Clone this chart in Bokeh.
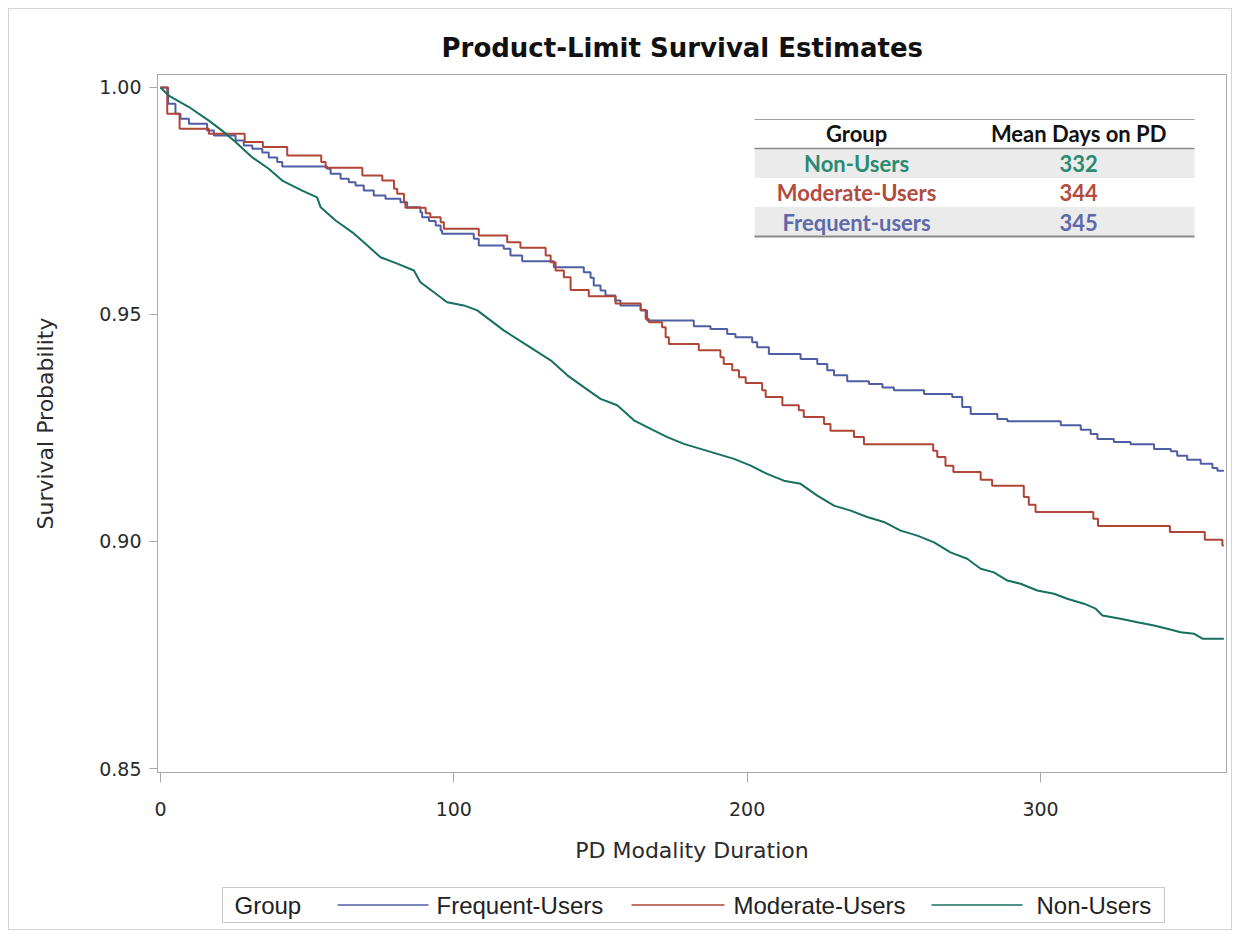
from bokeh.plotting import figure
from bokeh.layouts import column
from bokeh.models import Range1d, FixedTicker, NumeralTickFormatter
from bokeh.core.properties import value
from bokeh.embed import file_html
from bokeh.resources import INLINE

# ---------------- data ----------------
freq_t = [0, 2.6, 5.1, 6.8, 9.7, 15.9, 18.2, 25.6, 28.4, 31.3, 34.7, 36.9, 39.8, 41.5,
          56.8, 58.0, 61.4, 64.2, 66.5, 69.3, 72.7, 76.7, 81.8, 84.1, 88.6, 89.2, 91.5,
          93.8, 95.5, 96.0, 106.8, 108.5, 117.0, 119.3, 123.3, 134.1, 144.3, 146.6, 147.7,
          150.0, 151.7, 155.1, 156.8, 163.7, 165.9, 181.8, 187.5, 193.2, 196.0, 201.7,
          203.4, 207.4, 218.2, 223.9, 227.3, 229.6, 234.1, 241.5, 246.1, 250.0, 260.3,
          269.9, 273.3, 276.2, 285.3, 288.7, 306.9, 313.7, 317.1, 319.4, 325.0, 330.7,
          338.7, 344.4, 346.6, 350.0, 354.6, 358.6, 360.3, 362.5]
freq_s = [1.0, 0.9964, 0.9942, 0.9931, 0.9920, 0.9905, 0.9894, 0.9883, 0.9872, 0.9865,
          0.9857, 0.9846, 0.9836, 0.9826, 0.9821, 0.9810, 0.9799, 0.9791, 0.9784, 0.9773,
          0.9762, 0.9755, 0.9747, 0.9736, 0.9725, 0.9714, 0.9706, 0.9696, 0.9685, 0.9678,
          0.9667, 0.9652, 0.9645, 0.9630, 0.9617, 0.9604, 0.9593, 0.9581, 0.9564, 0.9553,
          0.9542, 0.9531, 0.9520, 0.9509, 0.9487, 0.9474, 0.9468, 0.9457, 0.9450, 0.9439,
          0.9428, 0.9413, 0.9402, 0.9391, 0.9377, 0.9366, 0.9353, 0.9347, 0.9339, 0.9333,
          0.9325, 0.9318, 0.9296, 0.9281, 0.9270, 0.9265, 0.9256, 0.9246, 0.9237, 0.9226,
          0.9219, 0.9214, 0.9204, 0.9199, 0.9189, 0.9180, 0.9171, 0.9162, 0.9156, 0.9156]

mod_t = [0, 2.3, 6.5, 16.5, 28.7, 34.9, 43.2, 54.8, 56.3, 68.8, 75.6, 79.6, 80.7, 83.0,
         83.5, 90.4, 92.0, 95.5, 96.6, 108.5, 118.2, 122.7, 131.3, 133.0, 134.7, 137.5,
         139.8, 146.0, 155.1, 163.7, 165.4, 166.5, 171.0, 172.2, 173.3, 183.5, 190.9,
         192.0, 194.9, 197.2, 199.5, 205.1, 206.3, 212.0, 217.6, 219.3, 226.2, 228.4,
         236.4, 239.8, 263.4, 264.8, 267.6, 270.3, 279.6, 283.5, 294.3, 296.0, 298.3,
         318.0, 319.6, 344.1, 356.0, 362.0, 362.5]
mod_s = [1.0, 0.9942, 0.9909, 0.9898, 0.9880, 0.9869, 0.9850, 0.9836, 0.9823, 0.9806,
         0.9795, 0.9777, 0.9766, 0.9747, 0.9735, 0.9723, 0.9714, 0.9703, 0.9689, 0.9674,
         0.9659, 0.9647, 0.9630, 0.9615, 0.9597, 0.9582, 0.9554, 0.9540, 0.9524, 0.9510,
         0.9490, 0.9483, 0.9472, 0.9450, 0.9435, 0.9421, 0.9406, 0.9391, 0.9377, 0.9362,
         0.9349, 0.9333, 0.9318, 0.9300, 0.9289, 0.9274, 0.9259, 0.9244, 0.9230, 0.9214,
         0.9200, 0.9186, 0.9167, 0.9153, 0.9136, 0.9123, 0.9098, 0.9081, 0.9065, 0.9050,
         0.9034, 0.9021, 0.9004, 0.8991, 0.8991]

non_t = [0, 2.8, 9.7, 16.5, 21.0, 25.6, 31.3, 36.9, 41.5, 48.3, 53.4, 54.6, 59.7, 65.4,
         69.3, 75.0, 80.7, 86.4, 88.6, 93.2, 97.7, 103.4, 108.0, 112.5, 117.0, 125.0,
         133.0, 138.7, 144.3, 150.0, 155.7, 161.4, 167.1, 172.8, 178.4, 184.1, 189.8,
         195.5, 201.2, 206.8, 212.5, 218.2, 223.9, 229.6, 235.3, 240.9, 246.6, 252.3,
         258.0, 263.7, 269.3, 275.0, 279.6, 284.1, 288.7, 293.2, 298.9, 304.6, 309.1,
         314.8, 318.8, 321.1, 327.3, 333.0, 338.7, 343.2, 347.8, 352.3, 355.2, 362.5]
non_s = [1.0, 0.9982, 0.9957, 0.9927, 0.9905, 0.9880, 0.9846, 0.9821, 0.9795, 0.9773,
         0.9758, 0.9736, 0.9707, 0.9681, 0.9659, 0.9626, 0.9612, 0.9597, 0.9571, 0.9549,
         0.9527, 0.9520, 0.9509, 0.9487, 0.9465, 0.9432, 0.9399, 0.9366, 0.9340, 0.9314,
         0.9300, 0.9267, 0.9248, 0.9230, 0.9215, 0.9204, 0.9193, 0.9182, 0.9167, 0.9149,
         0.9134, 0.9127, 0.9101, 0.9079, 0.9068, 0.9054, 0.9043, 0.9024, 0.9013, 0.8998,
         0.8976, 0.8962, 0.8940, 0.8932, 0.8914, 0.8907, 0.8892, 0.8885, 0.8874, 0.8863,
         0.8852, 0.8837, 0.8830, 0.8822, 0.8815, 0.8808, 0.8800, 0.8797, 0.8786, 0.8786]

legend_title = "Group"
legend_labels = ["Frequent-Users", "Moderate-Users", "Non-Users"]
table_groups = ["Non-Users", "Moderate-Users", "Frequent-users"]
table_means = ["332", "344", "345"]
table_header = ["Group", "Mean Days on PD"]
x_ticks = [0, 100, 200, 300]
y_ticks = [0.85, 0.90, 0.95, 1.00]

# ---------------- styles ----------------
C_FREQ, C_MOD, C_NON = "#4f5ea3", "#b04437", "#16705f"
T_FREQ, T_MOD, T_NON = "#5d69a8", "#b44b3f", "#2b8a72"
FONT = "DejaVu Sans"
W = 1222
FRAME_L, FRAME_R = 148, 1217   # frame edges in figure pixels

p = figure(width=W, height=861,
           x_range=Range1d(-1.02, 363.4), y_range=Range1d(0.84912, 1.00286),
           output_backend="svg", toolbar_location=None,
           title="Product-Limit Survival Estimates",
           min_border_left=FRAME_L, min_border_right=W - FRAME_R,
           min_border_top=65, min_border_bottom=98)

p.title.align = "left"
p.title.offset = 284
p.title.text_font = FONT
p.title.text_font_size = "26px"
p.title.text_font_style = "bold"
p.title.text_color = "#111111"
p.title.standoff = 23

p.xgrid.grid_line_color = None
p.ygrid.grid_line_color = None
p.outline_line_color = "#a8a8a8"
p.outline_line_width = 1

for ax in (p.xaxis[0], p.yaxis[0]):
    ax.axis_line_color = "#a8a8a8"
    ax.major_tick_line_color = "#a8a8a8"
    ax.minor_tick_line_color = None
    ax.major_tick_in = 0
    ax.major_label_text_font = FONT
    ax.major_label_text_font_size = "19px"
    ax.major_label_text_color = "#2a2a2a"
    ax.axis_label_text_font = FONT
    ax.axis_label_text_font_size = "22px"
    ax.axis_label_text_font_style = "normal"
    ax.axis_label_text_color = "#2a2a2a"

p.xaxis.ticker = FixedTicker(ticks=x_ticks)
p.yaxis.ticker = FixedTicker(ticks=y_ticks)
p.yaxis.formatter = NumeralTickFormatter(format="0.00")
p.xaxis.axis_label = "PD Modality Duration"
p.yaxis.axis_label = "Survival Probability"
p.xaxis.major_tick_out = 10
p.yaxis.major_tick_out = 8
p.xaxis.major_label_standoff = 19
p.yaxis.major_label_standoff = 8
p.xaxis.axis_label_standoff = 19
p.yaxis.axis_label_standoff = 38

# ---------------- inset table ----------------
TX0, TX1 = 202.5, 352.5
TY_TOP, TY_HEAD, TY_R1, TY_R2, TY_BOT = 0.99295, 0.98656, 0.98007, 0.97368, 0.96718
COL1, COL2 = 237.3, 313.0
TXT_Y = [0.98326, 0.97687, 0.97037]
HEAD_Y = 0.98976

p.quad(left=[TX0, TX0], right=[TX1, TX1], top=[TY_HEAD, TY_R2], bottom=[TY_R1, TY_BOT],
       fill_color="#ebebeb", line_color=None)
p.segment(x0=[TX0], y0=[TY_TOP], x1=[TX1], y1=[TY_TOP], line_color="#a0a0a0", line_width=1)
p.segment(x0=[TX0], y0=[TY_HEAD], x1=[TX1], y1=[TY_HEAD], line_color="#8a8a8a", line_width=1.5)
p.segment(x0=[TX0], y0=[TY_BOT], x1=[TX1], y1=[TY_BOT], line_color="#8a8a8a", line_width=2)

tkw = dict(text_font=value("Lato"), text_font_style="bold", text_font_size="22px",
           text_align="center", text_baseline="middle")
p.text(x=[COL1, COL2], y=[HEAD_Y, HEAD_Y], text=table_header, text_color="#111111", **tkw)
tcolors = [T_NON, T_MOD, T_FREQ]
p.text(x=[COL1] * 3, y=TXT_Y, text=table_groups, text_color=tcolors, **tkw)
p.text(x=[COL2] * 3, y=TXT_Y, text=table_means, text_color=tcolors, **tkw)

# ---------------- curves ----------------
p.step(freq_t, freq_s, mode="after", line_color=C_FREQ, line_width=2)
p.step(mod_t, mod_s, mode="after", line_color=C_MOD, line_width=2)
p.line(non_t, non_s, line_color=C_NON, line_width=2)

# ---------------- legend strip (below the plot) ----------------
# the column aligns this strip's frame with the main frame, so its x range is
# expressed in figure pixels across that frame
LH = 59
lg = figure(width=W, height=LH, x_range=Range1d(FRAME_L, FRAME_R), y_range=Range1d(0, LH),
            output_backend="svg", toolbar_location=None,
            x_axis_location=None, y_axis_location=None,
            min_border_left=FRAME_L, min_border_right=W - FRAME_R,
            min_border_top=0, min_border_bottom=0)
lg.xgrid.grid_line_color = None
lg.ygrid.grid_line_color = None
lg.outline_line_color = None

BOX_L, BOX_R, BOX_B, BOX_T = 213, 1155, 7, 42
YC = (BOX_B + BOX_T) / 2
lg.quad(left=[BOX_L], right=[BOX_R], bottom=[BOX_B], top=[BOX_T],
        fill_color="white", line_color="#c8c8c8", line_width=1)
seg_x0 = [328, 622, 922]
seg_x1 = [419, 715, 1013]
lab_x = [427, 724, 1027]
lg.segment(x0=seg_x0, y0=[YC] * 3, x1=seg_x1, y1=[YC] * 3,
           line_color=[C_FREQ, C_MOD, C_NON], line_width=1.6)
lkw = dict(text_font=value("Liberation Sans"), text_font_size="24px",
           text_color="#222222", text_align="left", text_baseline="middle")
lg.text(x=[225], y=[YC], text=[legend_title], **lkw)
lg.text(x=lab_x, y=[YC] * 3, text=legend_labels, **lkw)

layout = column(p, lg, spacing=0)
layout.styles = {"margin": "8px", "border": "1px solid #d4d4d4"}

open("out.html", "w").write(file_html(layout, INLINE))
